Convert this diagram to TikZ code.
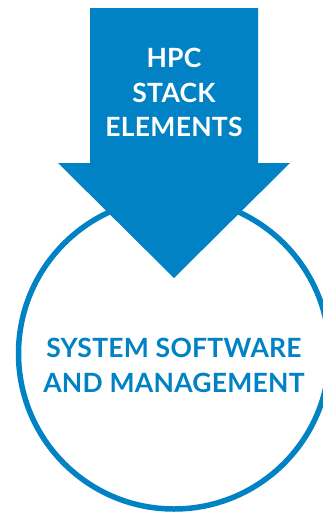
\documentclass[tikz,border=0pt]{standalone}
\usepackage{fontspec}
\setmainfont{Lato}[LetterSpace=1]
\definecolor{hpcblue}{RGB}{0,130,196}
\tikzset{
  arrowtxt/.style={text=white, font=\bfseries\fontsize{26.5}{30}\selectfont, anchor=base, inner sep=0pt},
  circtxt/.style={text=hpcblue, font=\bfseries\fontsize{26.5}{30}\selectfont, anchor=base, inner sep=0pt},
  ring/.style={circle, draw=hpcblue, line width=5.5pt, fill=white, minimum size=311pt, inner sep=0pt}
}
\begin{document}
\begin{tikzpicture}[x=1pt,y=-1pt]
\useasboundingbox (0,0) rectangle (323,512);
\node[ring] (sys) at (174,353.5) {};
\fill[hpcblue] (90,8) -- (258,8) -- (258,163) -- (290,163) -- (174,278) -- (58,163) -- (90,163) -- cycle;
\node[arrowtxt] (t1) at (174,67) {HPC};
\node[arrowtxt] (t2) at (174,102) {STACK};
\node[arrowtxt] (t3) at (174,136.5) {ELEMENTS};
\node[circtxt] (s1) at (174,357) {SYSTEM SOFTWARE};
\node[circtxt] (s2) at (174,392) {AND MANAGEMENT};
\end{tikzpicture}
\end{document}
